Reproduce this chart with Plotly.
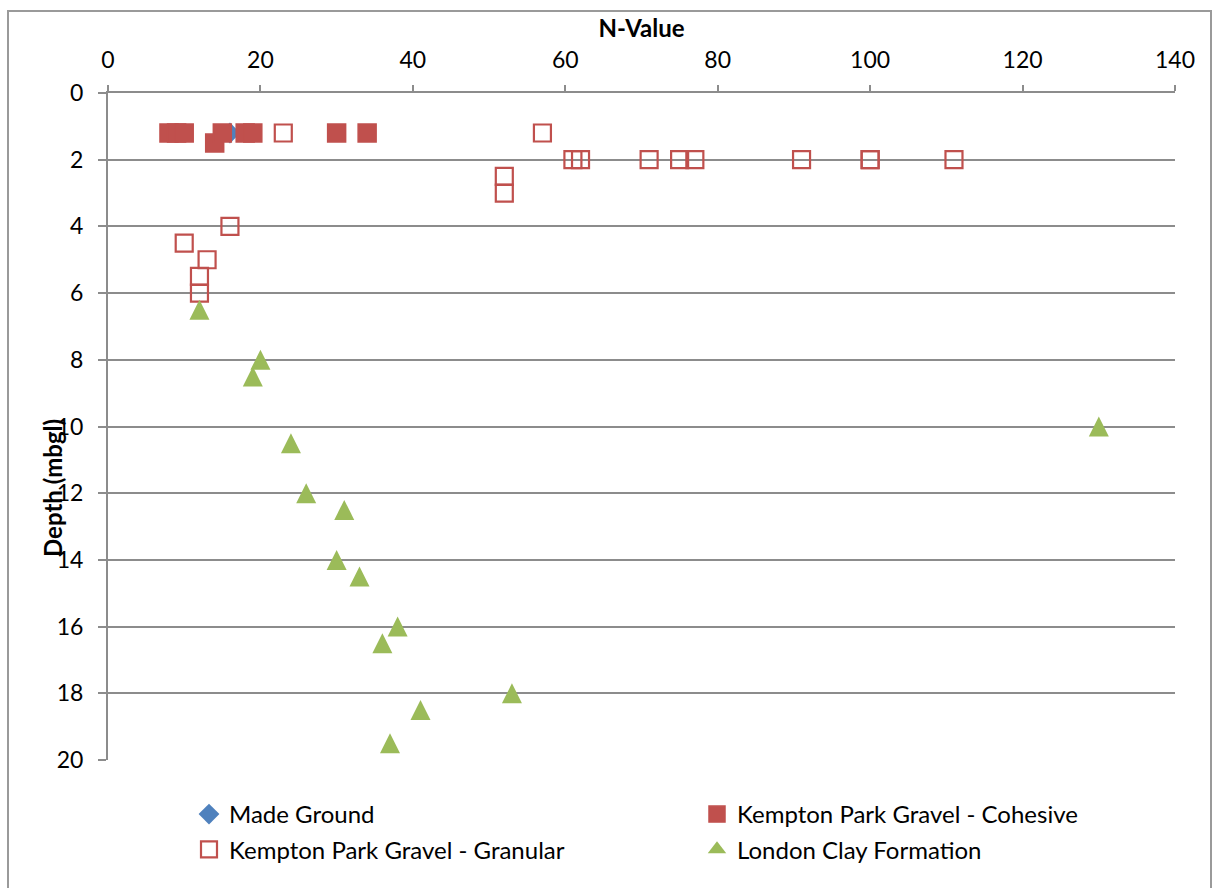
import plotly.graph_objects as go

# ---- data ----
made_ground_n = [16]
made_ground_d = [1.2]

cohesive_n = [8, 9, 10, 14, 15, 18, 19, 30, 34]
cohesive_d = [1.2, 1.2, 1.2, 1.5, 1.2, 1.2, 1.2, 1.2, 1.2]

granular_n = [23, 57, 61, 62, 71, 75, 77, 91, 100, 100, 111, 52, 52, 16, 10, 13, 12, 12]
granular_d = [1.2, 1.2, 2, 2, 2, 2, 2, 2, 2, 2, 2, 2.5, 3, 4, 4.5, 5, 5.5, 6]

clay_n = [12, 20, 19, 130, 24, 26, 31, 30, 33, 38, 36, 53, 41, 37]
clay_d = [6.5, 8, 8.5, 10, 10.5, 12, 12.5, 14, 14.5, 16, 16.5, 18, 18.5, 19.5]

x_ticks = [0, 20, 40, 60, 80, 100, 120, 140]
y_ticks = [0, 2, 4, 6, 8, 10, 12, 14, 16, 18, 20]

RED = "#C0504D"
GREEN = "#9BBB59"
BLUE = "#4F81BD"
GRID = "#8C8C8C"
FONT = "Lato"

W, H = 1214, 888
L, R, T, B = 108, 39, 93, 128
PW, PH = W - L - R, H - T - B


def px_x(p):
    return (p - L) / PW


def px_y(p):
    return (H - B - p) / PH


fig = go.Figure()
fig.add_trace(go.Scatter(
    x=made_ground_n, y=made_ground_d, mode="markers", name="Made Ground",
    legend="legend", legendgroup="a", legendrank=1,
    marker=dict(symbol="diamond", size=16, color=BLUE, line=dict(width=0)),
))
fig.add_trace(go.Scatter(
    x=cohesive_n, y=cohesive_d, mode="markers", name="Kempton Park Gravel - Cohesive",
    legend="legend2", legendgroup="b", legendrank=1,
    marker=dict(symbol="square", size=18, color=RED, line=dict(width=1.5, color=RED)),
))
fig.add_trace(go.Scatter(
    x=granular_n, y=granular_d, mode="markers", name="Kempton Park Gravel - Granular",
    legend="legend", legendgroup="c", legendrank=2,
    marker=dict(symbol="square", size=17, color="rgba(255,255,255,0)",
                line=dict(width=2.2, color=RED)),
))
fig.add_trace(go.Scatter(
    x=clay_n, y=clay_d, mode="markers", name="London Clay Formation", showlegend=False,
    marker=dict(symbol="arrow-down", size=20, angle=180, standoff=10, color=GREEN,
                line=dict(width=0)),
))
# legend entry for the clay series (same look, no points)
fig.add_trace(go.Scatter(
    x=[None], y=[None], mode="markers", name="London Clay Formation",
    legend="legend2", legendgroup="d", legendrank=2,
    marker=dict(symbol="triangle-up", size=16, color=GREEN, line=dict(width=0)),
))

legend_common = dict(
    orientation="v", yanchor="top", xanchor="left",
    traceorder="grouped", tracegroupgap=1,
    font=dict(family=FONT, size=24, color="black"),
    bgcolor="rgba(0,0,0,0)",
)

fig.update_layout(
    width=W, height=H,
    margin=dict(l=L, r=R, t=T, b=B, autoexpand=False),
    paper_bgcolor="white", plot_bgcolor="white",
    font=dict(family=FONT, size=23, color="black"),
    showlegend=True,
    legend=dict(x=px_x(189), y=px_y(792), **legend_common),
    legend2=dict(x=px_x(697), y=px_y(792), **legend_common),
    xaxis=dict(
        side="top", range=[0, 140], tickvals=x_ticks,
        showgrid=False, zeroline=False,
        showline=True, linecolor=GRID, linewidth=2,
        ticks="outside", ticklen=6, tickcolor=GRID, tickwidth=2,
        ticklabelstandoff=8,
        title=dict(text="<b>N-Value</b>", font=dict(family=FONT, size=24), standoff=0),
        mirror=False,
    ),
    yaxis=dict(
        range=[20, 0], tickvals=y_ticks,
        showgrid=True, gridcolor=GRID, gridwidth=2, zeroline=False,
        showline=True, linecolor=GRID, linewidth=2,
        ticks="outside", ticklen=8, tickcolor=GRID, tickwidth=2,
        ticklabelstandoff=10,
    ),
    shapes=[dict(
        type="rect", xref="paper", yref="paper",
        x0=px_x(8), x1=px_x(1211), y0=px_y(900), y1=px_y(11),
        line=dict(color="#9A9A9A", width=2), fillcolor="rgba(0,0,0,0)", layer="below",
    )],
    annotations=[dict(
        text="<b>Depth (mbgl)</b>", xref="paper", yref="paper",
        x=px_x(52), y=px_y(488), xanchor="center", yanchor="middle",
        textangle=-90, showarrow=False, font=dict(family=FONT, size=24),
    )],
)

fig.write_html("out.html")
